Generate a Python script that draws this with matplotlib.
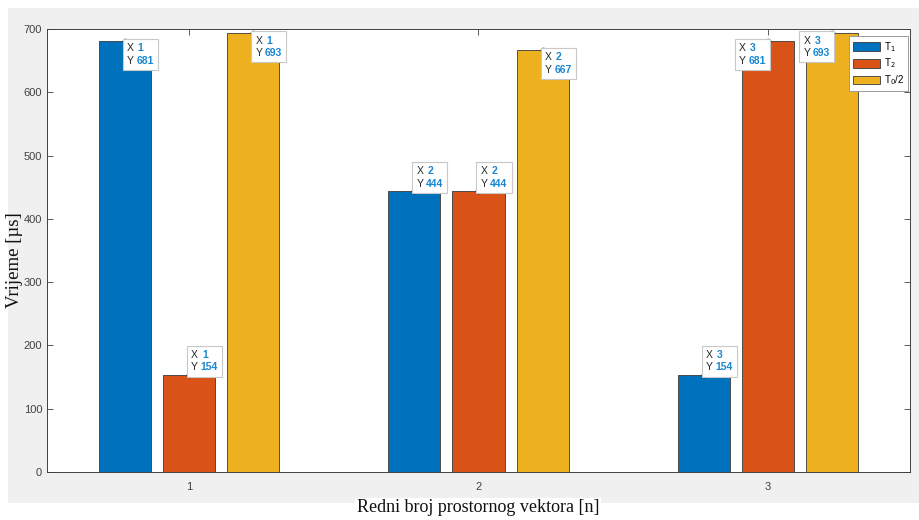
import matplotlib.pyplot as plt
from matplotlib.patches import Rectangle
from matplotlib.offsetbox import TextArea, HPacker, VPacker, AnnotationBbox

# Data
vectors = [1, 2, 3]
t1 = [681, 444, 154]
t2 = [154, 444, 681]
t0_half = [693, 667, 693]
series_labels = ['T$_1$', 'T$_2$', 'T$_0$/2']
colors = ['#0072BD', '#D95319', '#EDB120']

# data tip box placement per series/group: (dx sign, dy sign)
tip_dirs = [
    [(1, -1), (1, 1), (1, 1)],
    [(1, 1), (1, 1), (-1, -1)],
    [(1, -1), (1, -1), (-1, -1)],
]

plt.rcParams['font.family'] = ['Liberation Sans', 'DejaVu Sans']

fig = plt.figure(figsize=(9.2, 5.2), dpi=100, facecolor='white')
# MATLAB style grey figure area
fig.patches.append(Rectangle((8 / 920, 17 / 520), 912 / 920, 495 / 520,
                             transform=fig.transFigure, facecolor='#f0f0f0',
                             edgecolor='none', zorder=-10))

ax = fig.add_axes([47 / 920, 48 / 520, 863 / 920, 443 / 520])
ax.set_zorder(1)
ax.set_facecolor('white')

width = 0.18
offsets = [-0.222, 0, 0.222]
all_series = [t1, t2, t0_half]

for i, vals in enumerate(all_series):
    xs = [v + offsets[i] for v in vectors]
    ax.bar(xs, vals, width=width, color=colors[i], edgecolor='#3a3a3a',
           linewidth=0.6, label=series_labels[i], zorder=2)
    for j, (x, y) in enumerate(zip(xs, vals)):
        ax.plot(x, y, 'o', color='black', markersize=3, zorder=5)
        sx, sy = tip_dirs[i][j]
        row1 = HPacker(children=[
            TextArea('X', textprops=dict(color='#262626', fontsize=7.5)),
            TextArea(str(vectors[j]), textprops=dict(color='#1a86d0', fontsize=7.5,
                                                     fontweight='bold'))],
            pad=0, sep=3)
        row2 = HPacker(children=[
            TextArea('Y', textprops=dict(color='#262626', fontsize=7.5)),
            TextArea(str(y), textprops=dict(color='#1a86d0', fontsize=7.5,
                                            fontweight='bold'))],
            pad=0, sep=2)
        box = VPacker(children=[row1, row2], pad=0, sep=2, align='left')
        align = (0 if sx > 0 else 1, 0 if sy > 0 else 1)
        ab = AnnotationBbox(box, (x, y), xybox=(1.5 * sx, 1.5 * sy),
                            boxcoords='offset points', box_alignment=align,
                            pad=0.4, frameon=True,
                            bboxprops=dict(facecolor='white', edgecolor='#c8c8c8',
                                           linewidth=0.8, boxstyle='square'),
                            zorder=6)
        ax.add_artist(ab)

ax.set_xlim(0.51, 3.49)
ax.set_ylim(0, 700)
ax.set_xticks(vectors)
ax.set_yticks(range(0, 701, 100))
ax.tick_params(direction='in', length=4, width=0.6, colors='#404040',
               labelsize=8, pad=7, top=True, right=True)
ax.tick_params(axis='y', pad=3.5)
for s in ax.spines.values():
    s.set_color('#404040')
    s.set_linewidth(0.7)

leg = ax.legend(loc='upper right', bbox_to_anchor=(0.9977, 0.984),
                borderaxespad=0, fontsize=7, handlelength=2.8, handleheight=1.0,
                labelspacing=0.3, handletextpad=0.35, borderpad=0.4,
                fancybox=False, framealpha=1, edgecolor='#9a9a9a')
leg.get_frame().set_linewidth(0.7)

fig.text(15 / 920, 0.5, 'Vrijeme [µs]', rotation=90, ha='center', va='center',
         fontsize=13.5, family=['Liberation Serif', 'DejaVu Serif'], color='#111111')
fig.text(478 / 920, 12 / 520, 'Redni broj prostornog vektora [n]', ha='center',
         va='center', fontsize=13, family=['Liberation Serif', 'DejaVu Serif'],
         color='#111111',
         bbox=dict(facecolor='white', edgecolor='none', pad=1))

fig.savefig('out.png', dpi=100)
